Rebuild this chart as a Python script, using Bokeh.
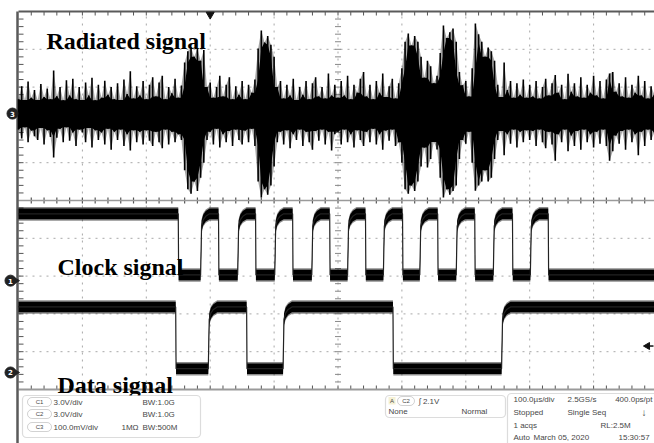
import numpy as np
from bokeh.plotting import figure
from bokeh.models import Range1d, BoxAnnotation, Label
from bokeh.core.properties import value
from bokeh.embed import file_html
from bokeh.resources import INLINE

# ---------------- data ----------------
# time axis: 100 us/div, 10 divisions; vertical: 5 div per panel
rad_step_us = 5            # radiated signal peaks read every 5 us
rad_hi_mv = [
    38, 72, 36, 85, 42, 62, 36, 78, 44, 66, 38, 114, 46, 70, 35, 88, 48, 92, 38, 70,
    36, 82, 48, 95, 35, 76, 42, 87, 50, 70, 38, 80, 36, 90, 52, 112, 40, 72, 48, 86,
    38, 76, 96, 45, 82, 100, 38, 70, 54, 92, 42, 74, 135, 165, 175, 150, 172, 140, 168, 70,
    82, 42, 70, 100, 45, 76, 96, 38, 72, 50, 86, 38, 76, 55, 90, 172, 220, 188, 205, 182,
    150, 70, 86, 40, 76, 48, 92, 36, 70, 50, 86, 38, 80, 96, 45, 70, 40, 106, 48, 76,
    42, 86, 48, 100, 38, 76, 55, 92, 110, 45, 76, 38, 86, 55, 106, 44, 72, 92, 40, 80,
    120, 190, 212, 180, 205, 190, 150, 95, 140, 125, 80, 100, 160, 233, 200, 215, 225, 190, 110, 75,
    86, 45, 120, 238, 210, 190, 150, 175, 165, 140, 76, 44, 135, 62, 86, 42, 80, 50, 90, 42,
    76, 45, 86, 40, 70, 92, 48, 80, 102, 55, 76, 38, 105, 58, 80, 45, 96, 42, 76, 55,
    100, 48, 86, 40, 90, 106, 110, 58, 80, 45, 96, 42, 76, 55, 100, 48, 86, 40, 72, 50,
]
rad_lo_mv = [
    -42, -66, -36, -76, -45, -60, -70, -38, -82, -44, -62, -116, -64, -40, -76, -36, -72, -50, -86, -42,
    -50, -76, -38, -90, -44, -70, -50, -82, -40, -96, -48, -70, -42, -86, -55, -98, -44, -76, -48, -82,
    -44, -72, -86, -48, -76, -92, -42, -82, -48, -76, -55, -70, -150, -200, -212, -180, -205, -170, -130, -70,
    -48, -82, -40, -90, -55, -76, -46, -86, -42, -70, -82, -45, -76, -40, -86, -180, -222, -200, -215, -190,
    -140, -76, -48, -82, -44, -92, -55, -70, -42, -86, -48, -76, -96, -46, -72, -42, -82, -48, -98, -55,
    -48, -82, -42, -76, -55, -90, -44, -70, -86, -48, -76, -40, -82, -55, -96, -45, -72, -42, -86, -76,
    -130, -200, -212, -190, -205, -180, -140, -90, -143, -120, -75, -95, -170, -222, -200, -215, -205, -190, -120, -70,
    -80, -48, -130, -204, -190, -180, -150, -180, -170, -120, -70, -46, -110, -55, -80, -42, -90, -48, -76, -44,
    -70, -46, -86, -42, -76, -92, -48, -82, -125, -55, -76, -42, -100, -58, -86, -46, -96, -42, -76, -55,
    -90, -48, -80, -42, -86, -125, -100, -58, -80, -46, -96, -42, -76, -55, -110, -48, -86, -42, -70, -50,
]

# clock (C1): starts high, alternating fall / rise times in us
clk_edges_us = [250, 285, 313, 343, 371, 401, 429, 459, 487, 515, 543,
                571, 601, 628, 656, 685, 714, 743, 773, 801, 829]
clk_high_v, clk_low_v = 5.3, 0.45
# data (C2): starts high, alternating fall / rise times in us
data_edges_us = [246, 297, 357, 414, 586, 756]
data_high_v, data_low_v = 5.2, 0.3
# shape of a rising edge (RC-like)
rise_dt_us = [0, 1.5, 4, 8, 14]
rise_frac = [0, 0.8, 0.9, 0.96, 1.0]

trig_pos_us = 300
trig_level_v = 2.1

# channel settings
ch3_mv_per_div = 100.0
ch1_v_per_div = 3.0
ch2_v_per_div = 3.0
ch3_offset_div = 7.30
ch1_offset_div = 2.88
ch2_offset_div = 0.45

grid_t = [100, 200, 300, 400, 500, 600, 700, 800, 900]
grid_y = [1, 2, 3, 4, 6, 7, 8, 9]

# ---------------- layout helpers (screen px -> data) ----------------
PX_PER_US = 0.639
PX_PER_DIV = 37.8
X0_PX, Y0_PX = 18, 389


def X(px):
    return (px - X0_PX) / PX_PER_US


def Y(py):
    return (Y0_PX - py) / PX_PER_DIV


T_END = X(654)

p = figure(width=654, height=443, x_range=Range1d(X(0), X(654)), y_range=Range1d(Y(443), Y(0)),
           x_axis_type=None, y_axis_type=None, toolbar_location=None, output_backend="svg",
           min_border=0, outline_line_color=None, background_fill_color="white",
           border_fill_color="white")

# ---- graticule ----
GRID_C = "#a8a8a8"
p.segment(x0=grid_t, x1=grid_t, y0=[0] * len(grid_t), y1=[10] * len(grid_t),
          line_color=GRID_C, line_dash="2 5", line_width=1)
p.segment(x0=[0] * len(grid_y), x1=[T_END] * len(grid_y), y0=grid_y, y1=grid_y,
          line_color=GRID_C, line_dash="2 5", line_width=1)

minor_t = np.arange(20, 1000, 20)
minor_y = np.arange(0.2, 10.0, 0.2)
TICK_C = "#555555"
tl = 4 / PX_PER_DIV
p.segment(x0=minor_t, x1=minor_t, y0=10, y1=10 - tl, line_color=TICK_C, line_width=1)
p.segment(x0=minor_t, x1=minor_t, y0=0, y1=tl, line_color=TICK_C, line_width=1)
p.segment(x0=minor_t, x1=minor_t, y0=5 - 0.08, y1=5 + 0.08, line_color=TICK_C, line_width=1.2)
p.segment(x0=0, x1=5 / PX_PER_US, y0=minor_y, y1=minor_y, line_color=TICK_C, line_width=1)
p.segment(x0=500 - 3 / PX_PER_US, x1=500 + 3 / PX_PER_US, y0=minor_y, y1=minor_y,
          line_color="#888888", line_width=1)

# borders
p.segment(x0=[0], x1=[T_END], y0=[10], y1=[10], line_color="#5a5a5a", line_width=2)
p.segment(x0=[0], x1=[T_END], y0=[5], y1=[5], line_color="#9a9a9a", line_width=1.5)
p.segment(x0=[0], x1=[T_END], y0=[0], y1=[0], line_color="#9a9a9a", line_width=2)
p.segment(x0=[X(17)], x1=[X(17)], y0=[Y(443)], y1=[10], line_color="#5a5a5a", line_width=2.5)

# ---- radiated signal (C3) ----
rad_t = np.arange(len(rad_hi_mv)) * rad_step_us
hi = np.array(rad_hi_mv, dtype=float)
lo = np.array(rad_lo_mv, dtype=float)
hi_pad = np.pad(hi, 1, mode="edge")
lo_pad = np.pad(lo, 1, mode="edge")
body_hi = np.minimum(np.minimum(hi_pad[:-2], hi_pad[1:-1]), hi_pad[2:])
body_lo = np.maximum(np.maximum(lo_pad[:-2], lo_pad[1:-1]), lo_pad[2:])
p.varea(x=rad_t, y1=ch3_offset_div + body_lo / ch3_mv_per_div,
        y2=ch3_offset_div + body_hi / ch3_mv_per_div, fill_color="black")
p.segment(x0=rad_t, x1=rad_t, y0=ch3_offset_div + lo / ch3_mv_per_div,
          y1=ch3_offset_div + hi / ch3_mv_per_div, line_color="black", line_width=1.6)
p.varea(x=rad_t, y1=ch3_offset_div + lo / ch3_mv_per_div,
        y2=ch3_offset_div + hi / ch3_mv_per_div, fill_color="black", fill_alpha=0.35)


# ---- digital traces ----
def digital(edges, hi, lo, t_end):
    xs, ys = [0.0], [hi]
    level = True
    for t in edges:
        if level:
            xs += [t, t + 0.6]
            ys += [hi, lo]
        else:
            xs += [t + d for d in rise_dt_us]
            ys += [lo + f * (hi - lo) for f in rise_frac]
        level = not level
    xs.append(t_end)
    ys.append(hi if level else lo)
    return np.array(xs), np.array(ys)


for edges, vh, vl, off, vdiv in [
        (clk_edges_us, clk_high_v, clk_low_v, ch1_offset_div, ch1_v_per_div),
        (data_edges_us, data_high_v, data_low_v, ch2_offset_div, ch2_v_per_div)]:
    tx, vy = digital(edges, vh, vl, T_END)
    yy = off + vy / vdiv
    p.varea(x=tx, y1=yy - 0.18, y2=yy + 0.18, fill_color="black", fill_alpha=0.45)
    p.varea(x=tx, y1=yy - 0.14, y2=yy + 0.14, fill_color="black")
    p.line(x=tx, y=yy, line_color="#222222", line_width=1.2)

# ---- markers ----
p.scatter(x=[X(12)], y=[ch3_offset_div], size=11, marker="circle", fill_color="#222222",
          line_color="#222222")
p.text(x=[X(12)], y=[ch3_offset_div], text=["3"], text_color="white", text_font_size="7px",
       text_align="center", text_baseline="middle", text_font=value("DejaVu Sans"),
       text_font_style="bold")
for off, lab in [(ch1_offset_div, "1"), (ch2_offset_div, "2")]:
    p.scatter(x=[X(15.5)], y=[off], size=6, marker="triangle", angle=-np.pi / 2,
              fill_color="#222222", line_color="#222222")
    p.scatter(x=[X(10)], y=[off], size=11, marker="circle", fill_color="#222222",
              line_color="#222222")
    p.text(x=[X(10)], y=[off], text=[lab], text_color="white", text_font_size="7px",
           text_align="center", text_baseline="middle", text_font=value("DejaVu Sans"),
           text_font_style="bold")

# trigger position & level
p.scatter(x=[trig_pos_us], y=[Y(14)], size=8, marker="inverted_triangle",
          fill_color="#111111", line_color="#111111")
trig_y = ch2_offset_div + trig_level_v / ch2_v_per_div
p.scatter(x=[X(647)], y=[trig_y], size=7, marker="triangle", angle=np.pi / 2,
          fill_color="#111111", line_color="#111111")
p.segment(x0=[X(647)], x1=[X(653)], y0=[trig_y], y1=[trig_y], line_color="#111111",
          line_width=1.5)

# ---- signal labels ----
LBL = dict(text_font=value("Liberation Serif"), text_font_style="bold",
           text_font_size="24px", text_color="black", text_baseline="alphabetic")
p.text(x=[X(46)], y=[Y(40)], text=["Radiated signal"], **LBL)
p.text(x=[X(57)], y=[Y(266)], text=["Clock signal"], **LBL)
p.text(x=[X(57)], y=[Y(384)], text=["Data signal"], **LBL)

# ---- info bar ----
BOX = dict(fill_color="white", fill_alpha=1, line_color="#8a8a8a", line_width=1.2)
p.add_layout(BoxAnnotation(left=X(22), right=X(200), top=Y(395), bottom=Y(437),
                           border_radius=4, **BOX))
p.add_layout(BoxAnnotation(left=X(385), right=X(505), top=Y(395), bottom=Y(417),
                           border_radius=4, **BOX))
p.add_layout(BoxAnnotation(left=X(507), right=X(664), top=Y(393), bottom=Y(450),
                           border_radius=4, **BOX))
p.add_layout(BoxAnnotation(left=X(388), right=X(395), top=Y(396.5), bottom=Y(404),
                           fill_color="#e6dc96", line_color=None))

INFO_C = "#474747"


def info(px, py, txt, size="8px", align="left", bold=False):
    p.add_layout(Label(x=X(px), y=Y(py), text=txt, text_font="Liberation Sans",
                       text_font_size=size, text_color=INFO_C, text_align=align,
                       text_baseline="middle", text_font_style="bold" if bold else "normal"))


def chip(px_l, px_r, py, txt):
    p.add_layout(BoxAnnotation(left=X(px_l), right=X(px_r), top=Y(py - 4.5), bottom=Y(py + 4.5),
                               border_radius=5, fill_color="white", line_color="#6a6a6a",
                               line_width=1))
    info((px_l + px_r) / 2, py, txt, size="6px", align="center")


rows_a = [(401.5, "C1", "3.0V/div", "", "BW:1.0G"),
          (413.5, "C2", "3.0V/div", "", "BW:1.0G"),
          (426.5, "C3", "100.0mV/div", "1MΩ", "BW:500M")]
for py, c, vd, imp, bw in rows_a:
    chip(27, 51, py, c)
    info(53, py, vd)
    if imp:
        info(121, py, imp)
    info(142, py, bw)

chip(397, 414, 400.5, "C2")
info(391.5, 400.5, "A", size="6px", align="center")
info(418, 400.5, "∫ 2.1V")
info(388, 411, "None")
info(461, 411, "Normal")

info(513, 399, "100.0µs/div")
info(567, 399, "2.5GS/s")
info(652, 399, "400.0ps/pt", align="right")
info(513, 412, "Stopped")
info(567, 412, "Single Seq")
info(641, 412, "↓", size="10px", bold=True)
info(513, 424.5, "1 acqs")
info(600, 424.5, "RL:2.5M")
info(513, 436.5, "Auto")
info(533, 436.5, "March 05, 2020")
info(618, 436.5, "15:30:57")

open("out.html", "w").write(file_html(p, INLINE))
